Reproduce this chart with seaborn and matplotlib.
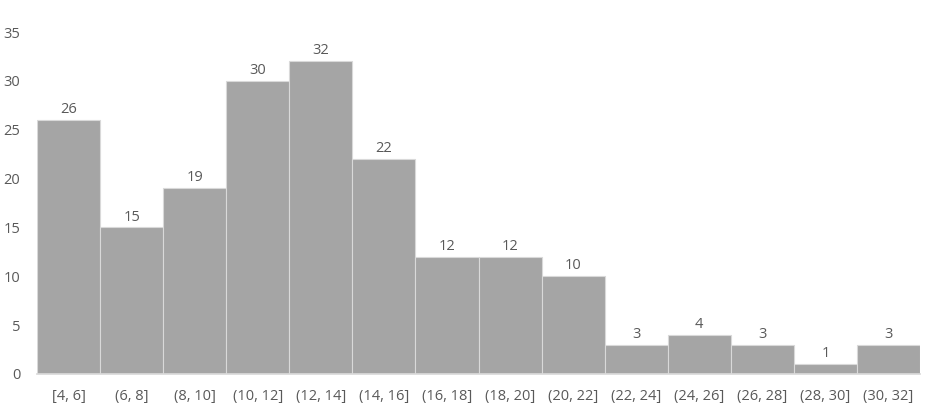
import matplotlib
matplotlib.use("Agg")
import matplotlib.pyplot as plt
import seaborn as sns
import pandas as pd

bins = ["[4, 6]", "(6, 8]", "(8, 10]", "(10, 12]", "(12, 14]", "(14, 16]", "(16, 18]",
        "(18, 20]", "(20, 22]", "(22, 24]", "(24, 26]", "(26, 28]", "(28, 30]", "(30, 32]"]
counts = [26, 15, 19, 30, 32, 22, 12, 12, 10, 3, 4, 3, 1, 3]

sns.set_theme(style="white")
plt.rcParams['font.family'] = ['Open Sans', 'DejaVu Sans']
text_color = "#595959"

df = pd.DataFrame({"bin": bins, "count": counts})

fig = plt.figure(figsize=(9.35, 4.16), dpi=100)
ax = fig.add_axes([0.0396, 0.101, 0.9444, 0.822])
sns.barplot(data=df, x="bin", y="count", color="#A5A5A5", saturation=1,
            width=1.0, edgecolor="#D9D9D9", linewidth=0.8, ax=ax)

# Value labels on top of bars
for i, v in enumerate(counts):
    ax.text(i, v + 0.3, str(v), ha="center", va="bottom", fontsize=10.5, color=text_color)

ax.set_xlim(-0.5, len(bins) - 0.5)
ax.set_ylim(0, 35)
ax.set_yticks(range(0, 36, 5))
ax.set_xlabel("")
ax.set_ylabel("")
ax.tick_params(axis="both", length=0, labelsize=10.5, labelcolor=text_color)
ax.tick_params(axis="x", pad=11)
ax.tick_params(axis="y", pad=12)
for s in ["top", "right", "left"]:
    ax.spines[s].set_visible(False)
ax.spines["bottom"].set_color("#D9D9D9")

fig.savefig("out.png", dpi=100)
